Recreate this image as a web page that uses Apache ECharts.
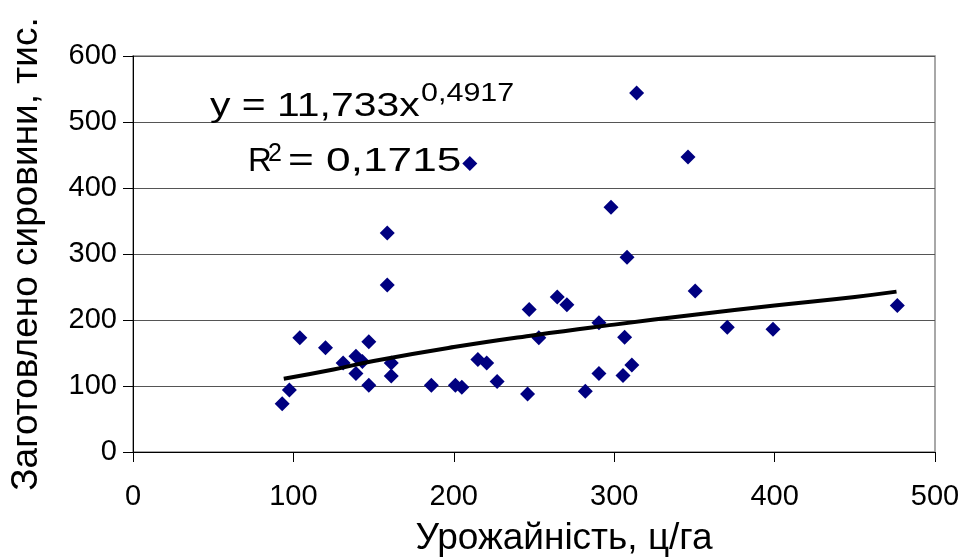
<!DOCTYPE html>
<html>
<head>
<meta charset="utf-8">
<script src="https://cdn.jsdelivr.net/npm/echarts@6/dist/echarts.min.js"></script>
<style>
  html, body { margin: 0; padding: 0; background: #fff; }
  #chart { width: 963px; height: 559px; }
</style>
</head>
<body>
<div id="chart"></div>
<script>
// урожайність, ц/га
const yieldX = [93, 97.5, 104, 120, 131, 139, 143, 139, 147, 147,
  158.5, 158.5, 161, 161, 186, 201, 205, 210, 215, 220.5,
  227, 246, 247, 253, 264.5, 270.5, 282, 290.5, 290.5, 298,
  305.5, 306.5, 308, 311, 314, 346, 350.5, 370.5, 399, 476.5];
// заготовлено сировини, тис.
const harvestY = [73, 94, 173, 158, 135, 145, 137, 119, 167, 101,
  332, 253, 135, 115, 101, 101, 98, 437, 140, 135,
  107, 88, 216, 173, 235, 223, 92, 196, 119, 371,
  116, 174, 295, 132, 544, 447, 244, 189, 186, 222];

// points
const trendX = [94, 125, 150, 200, 250, 300, 350, 400, 450, 476];
const trendY = [111, 125, 138, 159, 177, 193, 208, 222, 235, 243];

const xTicks = [0, 100, 200, 300, 400, 500];
const yTicks = [0, 100, 200, 300, 400, 500, 600];

const font = "'Liberation Sans', Arial, sans-serif";

const chart = echarts.init(document.getElementById("chart"), null, { renderer: "canvas" });

const points = yieldX.map((x, i) => [x, harvestY[i]]);
const trend = trendX.map((x, i) => [x, trendY[i]]);

const eqStyle = (text, size) => ({
  text: text,
  font: size + "px " + font,
  fill: "#000",
  textAlign: "left",
  textVerticalAlign: "middle",
  align: "left",
  verticalAlign: "middle",
});

chart.setOption({
  animation: false,
  backgroundColor: "#fff",
  grid: {
    left: 133,
    top: 56,
    width: 802,
    height: 396,
    containLabel: false,
    outerBoundsMode: "none",
    show: true,
    borderColor: "#8c8c8c",
    borderWidth: 1.5,
  },
  xAxis: {
    type: "value",
    min: xTicks[0],
    max: xTicks[xTicks.length - 1],
    interval: 100,
    name: "Урожайність, ц/га",
    nameLocation: "middle",
    nameGap: 68,
    nameTextStyle: { fontFamily: font, fontSize: 37, color: "#000", padding: [0, 0, 0, 60] },
    axisLine: { show: true, onZero: false, lineStyle: { color: "#000", width: 1 } },
    axisTick: { show: true, length: 10, lineStyle: { color: "#000" } },
    axisLabel: { fontFamily: font, fontSize: 29, color: "#000", margin: 30 },
    splitLine: { show: false },
  },
  yAxis: {
    type: "value",
    min: yTicks[0],
    max: yTicks[yTicks.length - 1],
    interval: 100,
    name: "Заготовлено сировини, тис.",
    nameLocation: "middle",
    nameGap: 88,
    nameTextStyle: { fontFamily: font, fontSize: 37, color: "#000" },
    axisLine: { show: true, onZero: false, lineStyle: { color: "#000", width: 1 } },
    axisTick: { show: true, length: 10, lineStyle: { color: "#000" } },
    axisLabel: { fontFamily: font, fontSize: 29, color: "#000", margin: 16 },
    splitLine: { show: true, lineStyle: { color: "#555", width: 1 } },
  },
  series: [
    {
      name: "дані",
      type: "scatter",
      data: points,
      symbol: "diamond",
      symbolSize: 15,
      itemStyle: { color: "#000080", opacity: 1 },
      z: 3,
    },
    {
      name: "тренд",
      type: "line",
      data: trend,
      smooth: true,
      showSymbol: false,
      lineStyle: { color: "#000", width: 4 },
      z: 4,
    },
  ],
  graphic: [
    { type: "text", x: 210, y: 107, scaleX: 1.24, style: eqStyle("y = 11,733x", 33), z: 10 },
    { type: "text", x: 421, y: 94.5, scaleX: 1.22, style: eqStyle("0,4917", 25), z: 10 },
    { type: "text", x: 248, y: 162, style: eqStyle("R", 33), z: 10 },
    { type: "text", x: 268, y: 154, style: eqStyle("2", 25), z: 10 },
    { type: "text", x: 288, y: 162, scaleX: 1.34, style: eqStyle("= 0,1715", 33), z: 10 },
  ],
});

window.addEventListener("resize", () => {
  chart.resize();
});
</script>
</body>
</html>
